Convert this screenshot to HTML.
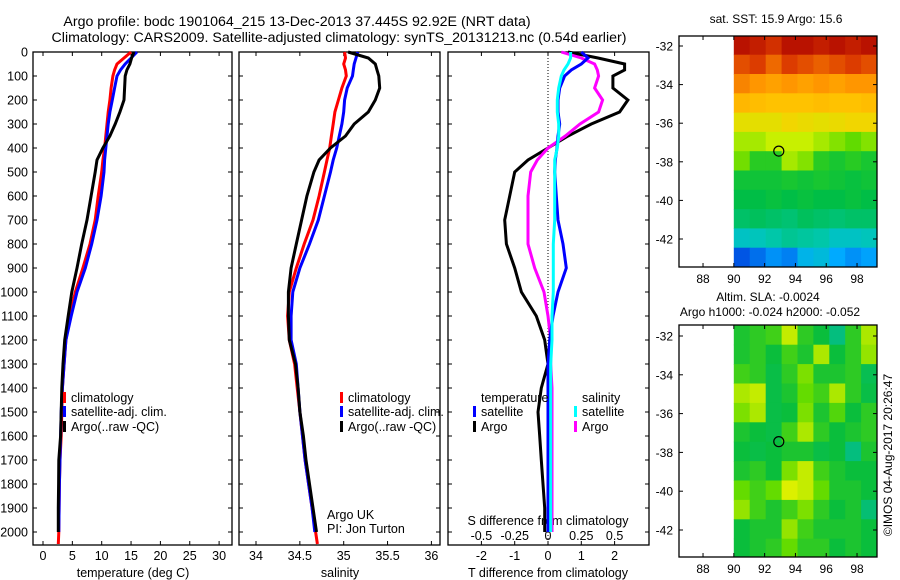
<!DOCTYPE html>
<html><head><meta charset="utf-8"><style>
html,body{margin:0;padding:0;background:#fff;}
svg{display:block;font-family:"Liberation Sans",sans-serif;}
</style></head><body>
<svg id="c" width="900" height="580" viewBox="0 0 900 580">
<text x="297" y="26" font-size="14.2" text-anchor="middle">Argo profile: bodc 1901064_215 13-Dec-2013 37.445S 92.92E (NRT data)</text>
<text x="339" y="42" font-size="14.2" text-anchor="middle">Climatology: CARS2009. Satellite-adjusted climatology: synTS_20131213.nc (0.54d earlier)</text>
<text x="776" y="23" font-size="12" text-anchor="middle">sat. SST: 15.9 Argo: 15.6</text>
<text x="768" y="301" font-size="12" text-anchor="middle">Altim. SLA: -0.0024</text>
<text x="770" y="316" font-size="12" text-anchor="middle">Argo h1000: -0.024 h2000: -0.052</text>
<text transform="translate(892,455) rotate(-90)" font-size="12" text-anchor="middle">©IMOS 04-Aug-2017 20:26:47</text>
</svg>
<script>
// ---- data ----
const depths = [0,25,50,75,100,150,200,250,300,350,400,450,500,600,700,800,900,1000,1100,1200,1300,1400,1500,1600,1700,1800,1900,2000];
const climDepths = [0,25,50,75,100,150,200,250,300,350,400,450,500,600,700,800,900,1000,1100,1200,1300,1400,1500,1600,1700,1800,1900,2000,2050];
const tempClim = [15.0,13.8,12.6,12.2,11.9,11.6,11.4,11.1,10.9,10.7,10.5,10.2,10.0,9.4,8.9,8.0,6.8,5.5,4.6,3.9,3.6,3.3,3.2,3.1,2.9,2.8,2.75,2.7,2.6];
const tempSat = [16.0,15.0,14.0,13.2,12.6,12.2,11.8,11.4,11.1,10.9,10.7,10.5,10.4,9.9,9.2,8.3,7.2,5.8,4.8,3.9,3.6,3.3,3.1,3.0,2.9,2.8,2.75,2.7];
const tempArgo = [15.5,15.1,14.8,14.3,14.0,13.9,13.8,13.1,12.3,11.4,10.2,9.2,8.9,8.2,7.5,6.6,5.8,4.9,4.3,3.7,3.4,3.2,3.1,3.0,2.7,2.65,2.6,2.6];
const salClim = [35.01,35.02,35.0,35.02,35.03,34.98,34.94,34.90,34.88,34.86,34.84,34.81,34.78,34.72,34.65,34.55,34.46,34.38,34.36,34.38,34.44,34.47,34.5,34.53,34.56,34.6,34.64,34.68,34.7];
const salSat = [35.16,35.14,35.12,35.11,35.10,35.04,35.01,35.0,34.98,34.95,34.92,34.88,34.85,34.78,34.71,34.61,34.50,34.42,34.40,34.40,34.46,34.48,34.5,34.53,34.56,34.6,34.64,34.67];
const salArgo = [35.05,35.28,35.36,35.38,35.40,35.41,35.36,35.28,35.12,35.02,34.85,34.72,34.66,34.58,34.52,34.46,34.40,34.37,34.37,34.38,34.45,34.48,34.5,34.54,34.57,34.61,34.65,34.69];
const dTArgo = [0.6,1.5,2.3,2.3,1.95,1.95,2.4,2.15,1.3,0.6,0.0,-0.6,-1.0,-1.15,-1.3,-1.25,-1.0,-0.8,-0.35,-0.1,0.0,-0.2,-0.3,-0.25,-0.2,-0.15,-0.1,-0.1];
const dTSat = [1.0,1.2,1.0,0.7,0.5,0.35,0.3,0.3,0.35,0.3,0.27,0.22,0.2,0.25,0.3,0.45,0.55,0.3,0.15,0.05,0.0,0.0,0.0,0.0,0.0,0.0,0.0,0.0];
const dSArgo = [0.1,0.25,0.35,0.37,0.38,0.35,0.41,0.38,0.24,0.13,0.0,-0.08,-0.13,-0.15,-0.15,-0.15,-0.1,-0.03,0.0,0.02,0.02,0.03,0.03,0.03,0.03,0.03,0.03,0.03];
const dSSat = [0.17,0.17,0.15,0.12,0.1,0.08,0.07,0.07,0.08,0.08,0.07,0.05,0.05,0.05,0.05,0.04,0.04,0.04,0.03,0.03,0.02,0.02,0.02,0.02,0.02,0.02,0.02,0.02];
const depthTicks = [0,100,200,300,400,500,600,700,800,900,1000,1100,1200,1300,1400,1500,1600,1700,1800,1900,2000];
const tempTicks = [0,5,10,15,20,25,30];
const salTicks = [34,34.5,35,35.5,36];
const salTickLabels = ["34","34.5","35","35.5","36"];
const dTTicks = [-2,-1,0,1,2];
const dSTicks = [-0.5,-0.25,0,0.25,0.5];
const dSTickLabels = ["-0.5","-0.25","0","0.25","0.5"];
const lonTicks = [88,90,92,94,96,98];
const latTicks = [-32,-34,-36,-38,-40,-42];
const argoLon = 92.92, argoLat = -37.445;
const sstGrid = [
[.97,.95,.92,.97,.97,.95,.97,.95,.97],
[.88,.9,.85,.9,.88,.86,.88,.9,.88],
[.82,.8,.78,.8,.78,.8,.78,.8,.8],
[.74,.73,.72,.72,.72,.73,.72,.72,.73],
[.66,.66,.66,.68,.67,.66,.67,.68,.68],
[.6,.6,.62,.62,.62,.6,.58,.56,.58],
[.57,.5,.5,.6,.58,.5,.48,.5,.48],
[.47,.47,.47,.48,.47,.48,.47,.46,.47],
[.45,.45,.46,.45,.46,.45,.45,.46,.45],
[.42,.43,.42,.41,.43,.42,.41,.42,.42],
[.33,.34,.36,.38,.37,.36,.33,.33,.34],
[.15,.18,.22,.2,.28,.3,.25,.22,.24]];
const slaGrid = [
[0.1,0.2,0.3,0.9,0.2,0,-0.6,0.2,0.8],
[0.1,0.2,0,0.3,0.1,0.8,0,0.2,0.7],
[0.3,0.2,-0.1,0.2,0.6,0.1,0.1,0.2,-0.2],
[0.8,0.9,-0.1,0.1,0.5,0.3,0.8,0.2,-0.1],
[0.6,0.8,-0.1,0,0.6,0.1,0.4,0,0.2],
[0.1,0,-0.1,0.3,0.8,0.2,0,0.1,0.2],
[0,-0.1,0,0.1,0.1,-0.1,0,-0.6,0.1],
[0.1,0.2,0,0.6,0.9,0.3,0.1,0,0],
[0.5,0.3,0.5,1,0.9,0.5,0.1,0.1,0],
[0.7,0.3,0.1,0.3,0.6,0.2,0,0.1,-0.5],
[0,0.1,0.1,0.7,0.3,0.1,0.1,0.1,0],
[0,0.1,0.2,0.5,0.2,0.2,0,0.1,0]];

// ---- scales ----
const svg = document.getElementById('c');
const NS = 'http://www.w3.org/2000/svg';
const py = d => 52 + d*0.24;
const pxT = t => 43 + t*5.87;
const pxS = s => 256 + (s-34)*87.7;
const pxDT = v => 548 + v*33.3;
const pxDS = v => 548 + v*133.2;
const mLon = lon => 679 + (lon-86.44)*15.4;
const m1Lat = lat => 46 + (-32-lat)*19.3;
const m2Lat = lat => 336 + (-32-lat)*19.4;

function mk(tag, attrs, parent){
  const e = document.createElementNS(NS, tag);
  for (const k in attrs) e.setAttribute(k, attrs[k]);
  (parent||svg).appendChild(e);
  return e;
}
function txt(x,y,s,size,anchor){
  const e = mk('text',{x:x,y:y,'font-size':size,'text-anchor':anchor||'middle'});
  e.textContent = s;
  return e;
}
function profile(xs, ds, fx, color, w, name){
  let d = '';
  for (let i=0;i<xs.length;i++){ d += (i?'L':'M') + fx(xs[i]).toFixed(1) + ' ' + py(ds[i]).toFixed(1); }
  const p = mk('path',{d:d,fill:'none',stroke:color,'stroke-width':w,'stroke-linejoin':'miter'});
  
  
}
function panel(x0,x1,name){
  const r = mk('rect',{x:x0,y:52,width:x1-x0,height:493,fill:'none',stroke:'#000','stroke-width':1.3});
  
  
  depthTicks.forEach(d=>{
    mk('line',{x1:x0,x2:x0+4,y1:py(d),y2:py(d),stroke:'#000'});
    mk('line',{x1:x1-4,x2:x1,y1:py(d),y2:py(d),stroke:'#000'});
  });
}
function xticks(vals, fx, labels, ly, size){
  vals.forEach((v,i)=>{
    mk('line',{x1:fx(v),x2:fx(v),y1:52,y2:56,stroke:'#000'});
    mk('line',{x1:fx(v),x2:fx(v),y1:541,y2:545,stroke:'#000'});
    const t = txt(fx(v), ly, labels[i], size);
    
    
  });
}
function legendEntry(x,y,color,label){
  mk('rect',{x:x,y:y-10,width:3,height:11,fill:color});
  const t = txt(x+8,y,label,12.5,'start');
  
  
}

// ---- panel 1 temperature ----
panel(33,232,'temperature-panel');
depthTicks.forEach(d=>{
  const t = txt(28, py(d)+4.5, String(d), 12.5, 'end');
  
  
});
xticks(tempTicks, pxT, tempTicks.map(String), 560, 12.5);
let at = txt(133,577,'temperature (deg C)',12.5);


profile(tempClim, climDepths, pxT, '#f00', 3, 'temp-climatology-line');
profile(tempSat, depths, pxT, '#00f', 3, 'temp-satellite-line');
profile(tempArgo, depths, pxT, '#000', 3, 'temp-argo-line');
legendEntry(63,402,'#f00','climatology');
legendEntry(63,416,'#00f','satellite-adj. clim.');
legendEntry(63,431,'#000','Argo(..raw -QC)');

// ---- panel 2 salinity ----
panel(239,440,'salinity-panel');
xticks(salTicks, pxS, salTickLabels, 560, 12.5);
at = txt(340,577,'salinity',12.5);


profile(salClim, climDepths, pxS, '#f00', 3, 'sal-climatology-line');
profile(salSat, depths, pxS, '#00f', 3, 'sal-satellite-line');
profile(salArgo, depths, pxS, '#000', 3, 'sal-argo-line');
legendEntry(340,402,'#f00','climatology');
legendEntry(340,416,'#00f','satellite-adj. clim.');
legendEntry(340,431,'#000','Argo(..raw -QC)');
at = txt(327,519,'Argo UK',12.5,'start');


at = txt(327,533,'PI: Jon Turton',12.5,'start');



// ---- panel 3 differences ----
panel(448,649,'difference-panel');
mk('line',{x1:pxDT(0),x2:pxDT(0),y1:52,y2:545,stroke:'#000','stroke-dasharray':'1 2'});
xticks(dTTicks, pxDT, dTTicks.map(String), 560, 12.5);
dSTicks.forEach((v,i)=>{
  const t = txt(pxDS(v), 540, dSTickLabels[i], 12.5);
  
  
});
at = txt(548,525,'S difference from climatology',12.5);


at = txt(548,577,'T difference from climatology',12.5);


profile(dTArgo, depths, pxDT, '#000', 3, 'dT-argo-line');
profile(dSArgo, depths, pxDS, '#f0f', 3, 'dS-argo-line');
profile(dTSat, depths, pxDT, '#00f', 3, 'dT-satellite-line');
profile(dSSat, depths, pxDS, '#0ff', 3, 'dS-satellite-line');
at = txt(481,402,'temperature',12.5,'start');


at = txt(582,402,'salinity',12.5,'start');


legendEntry(473,416,'#00f','satellite');
legendEntry(473,431,'#000','Argo');
legendEntry(574,416,'#0ff','satellite');
legendEntry(574,431,'#f0f','Argo');

// ---- maps ----
function lerpColor(stops, v){
  if (v<=stops[0][0]) return 'rgb('+stops[0][1].join(',')+')';
  for (let i=1;i<stops.length;i++){
    if (v<=stops[i][0]){
      const a=stops[i-1], b=stops[i], f=(v-a[0])/(b[0]-a[0]);
      return 'rgb('+[0,1,2].map(k=>Math.round(a[1][k]+(b[1][k]-a[1][k])*f)).join(',')+')';
    }
  }
  const l = stops[stops.length-1][1];
  return 'rgb('+l.join(',')+')';
}
const sstStops = [[0,[0,0,140]],[0.12,[0,60,220]],[0.25,[0,170,255]],[0.35,[0,200,180]],[0.45,[0,190,70]],[0.55,[80,215,0]],[0.62,[200,240,0]],[0.7,[255,205,0]],[0.8,[255,150,0]],[0.9,[220,60,0]],[1.0,[170,0,0]]];
const slaStops = [[-1,[0,190,170]],[0,[10,190,60]],[0.5,[100,220,0]],[1,[220,240,0]]];
function drawMap(grid, fLat, top, bottom, stops, name, boxName){
  const g = mk('g',{});
  
  
  const rows = grid.length, cols = grid[0].length;
  const lonW = (99.3-90)/cols;
  for (let r=0;r<rows;r++) for (let c=0;c<cols;c++){
    const lat0 = -31.45 - r, lat1 = lat0-1;
    const lon0 = 90 + c*lonW, lon1 = lon0+lonW;
    const y0 = Math.max(top, fLat(lat0)), y1 = Math.min(bottom, fLat(lat1));
    const cell = mk('rect',{x:mLon(lon0).toFixed(1),y:y0.toFixed(1),width:(mLon(lon1)-mLon(lon0)+0.5).toFixed(1),height:(y1-y0+0.5).toFixed(1),fill:lerpColor(stops,grid[r][c])}, g);
    
    
  }
  const b = mk('rect',{x:679,y:top,width:198,height:bottom-top,fill:'none',stroke:'#000','stroke-width':1.3});
  
  
  lonTicks.forEach(l=>{
    mk('line',{x1:mLon(l),x2:mLon(l),y1:top,y2:top+4,stroke:'#000'});
    mk('line',{x1:mLon(l),x2:mLon(l),y1:bottom-4,y2:bottom,stroke:'#000'});
    const t = txt(mLon(l), bottom+16, String(l), 12);
    
    
  });
  latTicks.forEach(l=>{
    mk('line',{x1:679,x2:683,y1:fLat(l),y2:fLat(l),stroke:'#000'});
    mk('line',{x1:873,x2:877,y1:fLat(l),y2:fLat(l),stroke:'#000'});
    const t = txt(673, fLat(l)+4.5, String(l), 12, 'end');
    
    
  });
  const m = mk('circle',{cx:mLon(argoLon),cy:fLat(argoLat),r:5,fill:'none',stroke:'#000','stroke-width':1.2});
  
  
}
drawMap(sstGrid, m1Lat, 36, 267, sstStops, 'sst-map', 'sst-map-frame');
drawMap(slaGrid, m2Lat, 325, 557, slaStops, 'sla-map', 'sla-map-frame');
</script>
</body></html>
